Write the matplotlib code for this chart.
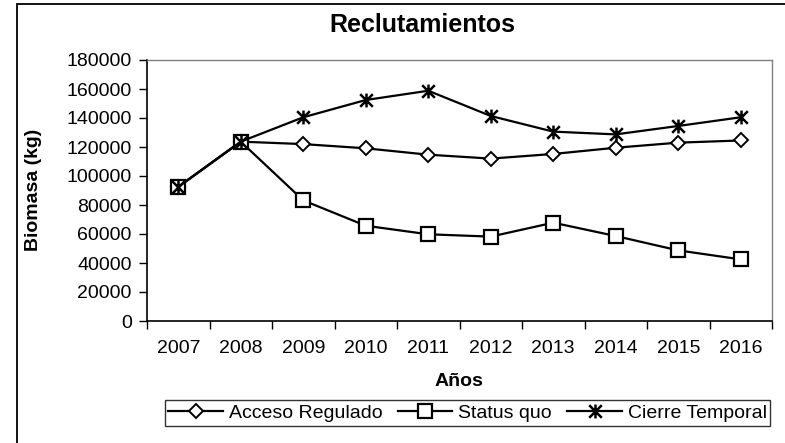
import matplotlib
matplotlib.use("Agg")
import matplotlib.pyplot as plt
from matplotlib.patches import Rectangle
from matplotlib.path import Path
import numpy as np

plt.rcParams['font.family'] = ['Liberation Sans', 'DejaVu Sans']

years = ['2007', '2008', '2009', '2010', '2011', '2012', '2013', '2014', '2015', '2016']
acceso_regulado = [92500, 123700, 122000, 119100, 114700, 112000, 115200, 119500, 123000, 124500]
status_quo = [92500, 123700, 83200, 65700, 59800, 58200, 67800, 58600, 48700, 42500]
cierre_temporal = [92500, 123700, 140500, 152400, 158800, 141400, 130600, 128700, 134500, 140500]
y_ticks = [0, 20000, 40000, 60000, 80000, 100000, 120000, 140000, 160000, 180000]

# asterisk marker: an X crossed by a vertical stroke
star = Path([(-1, -1), (1, 1), (-1, 1), (1, -1), (0, -1.1), (0, 1.1)],
            [Path.MOVETO, Path.LINETO, Path.MOVETO, Path.LINETO, Path.MOVETO, Path.LINETO])

W, H = 785, 443
fig = plt.figure(figsize=(W / 100, H / 100), dpi=100)

# outer chart border (runs off the right and bottom edges)
fig.patches.append(Rectangle((17 / W, -0.05), 1.1, 1 - 4.5 / H + 0.05,
                             transform=fig.transFigure, fill=False,
                             edgecolor='black', linewidth=1.3))

left, right, top, bottom = 147, 772, 60, 321
ax = fig.add_axes([left / W, 1 - bottom / H, (right - left) / W, (bottom - top) / H])

x = np.arange(len(years))
ax.plot(x, acceso_regulado, color='black', lw=1.6, marker='D', markersize=7.5,
        markerfacecolor='white', markeredgecolor='black', markeredgewidth=1.4,
        label='Acceso Regulado')
ax.plot(x, status_quo, color='black', lw=1.6, marker='s', markersize=9.5,
        markerfacecolor='white', markeredgecolor='black', markeredgewidth=1.6,
        label='Status quo')
ax.plot(x, cierre_temporal, color='black', lw=1.6, marker=star, markersize=10,
        markeredgecolor='black', markeredgewidth=1.8, label='Cierre Temporal')

ax.set_xlim(-0.5, len(years) - 0.5)
ax.set_ylim(0, 180000)
ax.set_yticks(y_ticks)
ax.set_yticklabels([str(v) for v in y_ticks], fontsize=14)
ax.set_xticks(x)
ax.set_xticklabels(years, fontsize=14)
ax.tick_params(axis='x', length=0, pad=14)
ax.set_xticks(np.arange(len(years) + 1) - 0.5, minor=True)
ax.tick_params(axis='x', which='minor', length=6, direction='out', width=1)
ax.tick_params(axis='y', length=6, direction='out', width=1, pad=5)

for s in ['left', 'bottom']:
    ax.spines[s].set_color('black')
    ax.spines[s].set_linewidth(1.2)
for s in ['top', 'right']:
    ax.spines[s].set_color('#808080')
    ax.spines[s].set_linewidth(1.0)

fig.text(422 / W, 1 - 25 / H, 'Reclutamientos', ha='center', va='center',
         fontsize=18, fontweight='bold')
fig.text(33 / W, 1 - 190 / H, 'Biomasa (kg)', ha='center', va='center',
         rotation=90, fontsize=14, fontweight='bold')
fig.text(459 / W, 1 - 382 / H, 'Años', ha='center', va='center',
         fontsize=14, fontweight='bold')

leg = fig.legend(loc='center', bbox_to_anchor=(467.5 / W, 1 - 413 / H), ncol=3,
                 fontsize=14, frameon=True, fancybox=False, edgecolor='black',
                 handlelength=2.8, handletextpad=0.3, columnspacing=0.8,
                 borderpad=0.2, borderaxespad=0)
leg.get_frame().set_linewidth(1.0)

fig.savefig('out.png', dpi=100)
